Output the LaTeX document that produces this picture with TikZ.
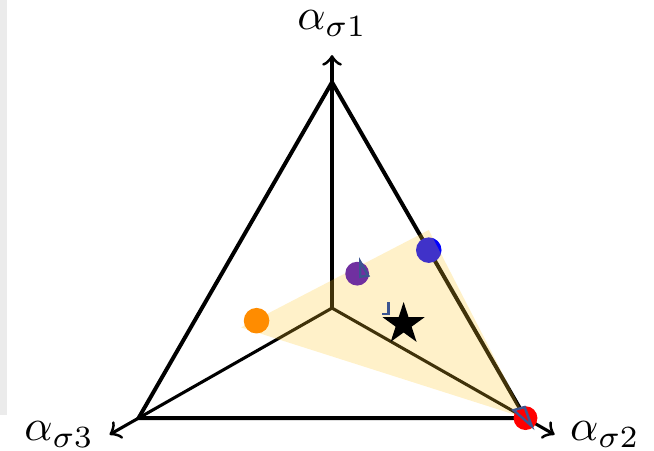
\documentclass[tikz,border=0pt]{standalone}
\usepackage{amsmath}
\usepackage{xcolor}
\usetikzlibrary{shapes.geometric}

\definecolor{amarillo}{RGB}{255,200,40}
\definecolor{naranja}{RGB}{255,140,0}
\definecolor{morado}{RGB}{112,48,160}
\definecolor{marca}{RGB}{60,85,145}
\definecolor{borde}{RGB}{235,235,235}

\begin{document}
\begin{tikzpicture}[x={(0cm,1.8cm)}, y={(1.542cm,-0.877cm)}, z={(-1.542cm,-0.877cm)},
    eje/.style={line width=0.7pt, ->},
    lado/.style={line width=0.9pt},
    punto/.style={circle, inner sep=0pt, minimum size=5.8pt},
    marcas/.style={draw=marca, line width=0.55pt}]

\useasboundingbox (-2.646cm,-1.132cm) rectangle (2.566cm,2.455cm);
\fill[borde] (-2.646cm,-0.853cm) rectangle (-2.590cm,2.455cm);

% Vertices
\coordinate (O) at (0,0,0);
\coordinate (A1) at (1,0,0);
\coordinate (A2) at (0,1,0);
\coordinate (A3) at (0,0,1);
\coordinate (E1) at (1.12,0,0);
\coordinate (E2) at (0,1.15,0);
\coordinate (E3) at (0,0,1.15);

% Ejes
\foreach \e in {E1,E2,E3} {
    \draw[eje] (O) -- (\e);
}
\node[above=3pt, inner sep=1pt] at (E1) {$\alpha_{\sigma 1}$};
\node[right] at (E2) {$\alpha_{\sigma 2}$};
\node[left] at (E3) {$\alpha_{\sigma 3}$};

% Simplex
\draw[lado] (A1) -- (A2) -- (A3) -- cycle;

% Puntos
\node[punto, fill=blue] (azul) at (0.5,0.5,0) {};
\fill[amarillo, fill opacity=0.25] (0.27,0.13,0.60) -- (0.56,0.47,-0.03) -- (A2) -- cycle;
\node[punto, fill=naranja] (nar) at (0.29,0.16,0.55) {};
\node[punto, fill=morado, minimum size=5.4pt] (mor) at (0.43,0.35,0.22) {};
\node[punto, fill=red, minimum size=5.4pt] (rojo) at (A2) {};
\node[star, star points=5, star point ratio=2.618, fill=black, inner sep=0pt,
      minimum size=10pt] (estrella) at (0.28,0.545,0.175) {};

% Marcas
\draw[marcas] ([shift={(0.7pt,2.7pt)}]mor.center) -- ([shift={(0.7pt,-0.7pt)}]mor.center)
    -- ([shift={(2.5pt,-0.45pt)}]mor.center) -- cycle;
\draw[marcas] ([shift={(-3.4pt,5pt)}]estrella.center) -- ([shift={(-3.4pt,2.3pt)}]estrella.center)
    -- ([shift={(-5pt,2.3pt)}]estrella.center);
\draw[marcas] ([shift={(-2.7pt,1.8pt)}]rojo.center) -- ([shift={(-0.2pt,2.5pt)}]rojo.center)
    -- ([shift={(1.4pt,-1.8pt)}]rojo.center) -- cycle;

\end{tikzpicture}
\end{document}
